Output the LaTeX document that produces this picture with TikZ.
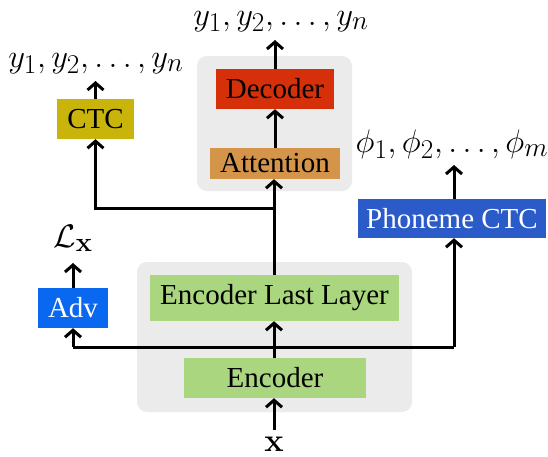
\documentclass[tikz,border=0pt]{standalone}
\usepackage{graphicx}
\usepackage[no-math]{fontspec}
\setmainfont{Liberation Serif}
\usetikzlibrary{arrows.meta}
\definecolor{grp}{HTML}{EBEBEB}
\definecolor{decc}{HTML}{D5300A}
\definecolor{attc}{HTML}{D4954B}
\definecolor{ctcc}{HTML}{C8B40B}
\definecolor{phc}{HTML}{2A5BC9}
\definecolor{advc}{HTML}{0A67F0}
\definecolor{encc}{HTML}{A9D67E}
\newcommand{\bigmath}[1]{\scalebox{1.31}{$#1$}}
\tikzset{
  blk/.style={rectangle, inner sep=0pt, font=\fontsize{29}{33}\selectfont},
  lbl/.style={inner sep=0pt, anchor=base, font=\fontsize{24.88}{28}\selectfont},
  grpbox/.style={fill=grp, rounded corners=10pt},
  conn/.style={line width=3pt, -{Straight Barb[length=7pt,width=16pt,line width=3pt]}},
  plain/.style={line width=3pt}
}
\begin{document}
\begin{tikzpicture}[x=1pt,y=-1pt]
\useasboundingbox (0,0) rectangle (548,456);
% groups
\fill[grpbox] (197,56) rectangle (352,191);
\fill[grpbox] (137,262) rectangle (412,412);
% blocks
\node[blk, fill=decc, minimum width=118pt, minimum height=40pt] (dec) at (275,89) {Decoder};
\node[blk, fill=attc, minimum width=130pt, minimum height=31pt] (att) at (275,163.5) {Attention};
\node[blk, fill=ctcc, minimum width=77pt, minimum height=40pt] (ctc) at (95.5,119) {CTC};
\node[blk, fill=phc, text=white, minimum width=188pt, minimum height=39pt] (ph) at (452,218.5) {Phoneme CTC};
\node[blk, fill=advc, text=white, minimum width=70pt, minimum height=40pt] (adv) at (73,308) {Adv};
\node[blk, fill=encc, minimum width=249pt, minimum height=46pt] (ell) at (274.5,298) {Encoder Last Layer};
\node[blk, fill=encc, minimum width=182pt, minimum height=40pt] (enc) at (275,378) {Encoder};
% labels
\node[lbl] (ytop) at (281,25) {\bigmath{y_1, y_2, \ldots, y_n}};
\node[lbl] (yctc) at (96,67) {\bigmath{y_1, y_2, \ldots, y_n}};
\node[lbl] (phi) at (452,152) {\bigmath{\phi_1, \phi_2, \ldots, \phi_m}};
\node[lbl] (lx) at (73,247) {\bigmath{\mathcal{L}_{\mathbf{x}}}};
\node[lbl] (xin) at (274,451) {\bigmath{\mathbf{x}}};
% coordinates
\coordinate (xbot) at (274,430);
\coordinate (ytopa) at (275,40);
\coordinate (yctca) at (95.5,81);
\coordinate (phia) at (454,165);
\coordinate (lxa) at (73,263);
\coordinate (br) at (274,208);
\coordinate (hb) at (274,347);
% connectors
\draw[conn] (xbot) -- (enc.south -| xbot);
\draw[conn] (enc.north -| hb) -- (ell.south -| hb);
\draw[conn] (hb -| adv) -- (adv.south);
\draw[plain] (hb -| adv) -- (hb -| phia);
\draw[conn] (hb -| phia) -- (ph.south -| phia);
\draw[conn] (ph.north -| phia) -- (phia);
\draw[conn] (adv.north) -- (lxa);
\draw[conn] (ell.north -| br) -- (att.south -| br);
\draw[conn] (br) -| (ctc.south);
\draw[conn] (ctc.north) -- (yctca);
\draw[conn] (att.north -| dec) -- (dec.south);
\draw[conn] (dec.north) -- (ytopa);
\end{tikzpicture}
\end{document}
